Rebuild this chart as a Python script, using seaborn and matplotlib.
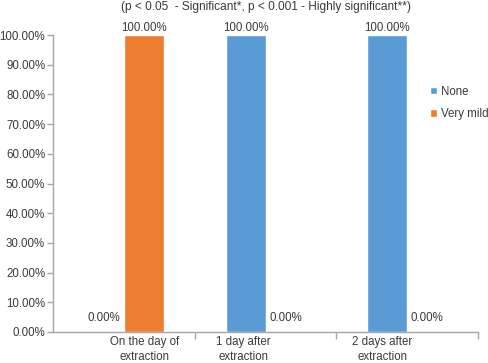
import matplotlib
matplotlib.use("Agg")
import matplotlib.pyplot as plt
import matplotlib.transforms as mtransforms
import seaborn as sns
import pandas as pd
import numpy as np

categories = ["On the day of\nextraction", "1 day after\nextraction", "2 days after\nextraction"]
series_names = ["None", "Very mild"]
none_values = [0.0, 100.0, 100.0]
very_mild_values = [100.0, 0.0, 0.0]
y_ticks = [0, 10, 20, 30, 40, 50, 60, 70, 80, 90, 100]
title_text = "(p < 0.05  - Significant*, p < 0.001 - Highly significant**)"

df = pd.DataFrame({
    "category": categories * 2,
    "series": [series_names[0]] * 3 + [series_names[1]] * 3,
    "value": none_values + very_mild_values,
})

sns.set_theme(style="white")
plt.rcParams["font.family"] = ["Liberation Sans", "DejaVu Sans"]
FS = 8.3
TC = "#3A3A3A"

fig = plt.figure(figsize=(4.89, 3.63), dpi=100)
ax = fig.add_axes([53.5 / 489, 1 - 332 / 363, (478 - 53.5) / 489, (332 - 35) / 363])

palette = {"None": "#5B9BD5", "Very mild": "#ED7D31"}
sns.barplot(data=df, x="category", y="value", hue="series", order=categories,
            hue_order=series_names, palette=palette, width=0.566, gap=0,
            saturation=1, ax=ax, legend=True, errorbar=None)

ax.set_xlim(-0.5, 2.5)
ax.set_ylim(0, 100)
ax.set_yticks(y_ticks)
ax.set_yticklabels([f"{v:.2f}%" for v in y_ticks])
ax.set_xlabel("")
ax.set_ylabel("")

for s in ["top", "right"]:
    ax.spines[s].set_visible(False)
for s in ["left", "bottom"]:
    ax.spines[s].set_color("#A6A6A6")
    ax.spines[s].set_linewidth(1.0)

ax.tick_params(axis="y", which="major", length=4, width=1, color="#A6A6A6",
               labelsize=FS, labelcolor=TC, pad=2, direction="out", left=True)
ax.tick_params(axis="x", which="major", length=0, labelsize=FS, labelcolor=TC, pad=3)
ax.set_xticks([0.5, 1.5, 2.5], minor=True)
ax.tick_params(axis="x", which="minor", length=5, width=1, color="#A6A6A6", direction="out", bottom=True)

# shift category labels to mimic the reference
offsets = [20, -22, -25]
for lbl, dx in zip(ax.get_xticklabels(), offsets):
    lbl.set_transform(lbl.get_transform() + mtransforms.ScaledTranslation(dx / 100, 0, fig.dpi_scale_trans))
    lbl.set_linespacing(1.35)

# data labels
for container in ax.containers:
    for patch in container:
        h = patch.get_height()
        xc = patch.get_x() + patch.get_width() / 2
        pad = 1 if h > 0 else 6
        ax.annotate(f"{h:.2f}%", (xc, h), xytext=(0, pad), textcoords="offset points",
                    ha="center", va="bottom", fontsize=FS, color=TC,
                    annotation_clip=False)

leg = ax.legend(loc="center left", bbox_to_anchor=(430 / 489, 1 - 103 / 363),
                bbox_transform=fig.transFigure, frameon=False, fontsize=FS,
                handlelength=0.6, handleheight=0.6, handletextpad=0.35,
                labelspacing=0.9, borderaxespad=0, borderpad=0)
for t in leg.get_texts():
    t.set_color(TC)

fig.text(266 / 489, 1 - 7 / 363, title_text, ha="center", va="center",
         fontsize=8.6, color=TC)

fig.savefig("out.png", dpi=100)
